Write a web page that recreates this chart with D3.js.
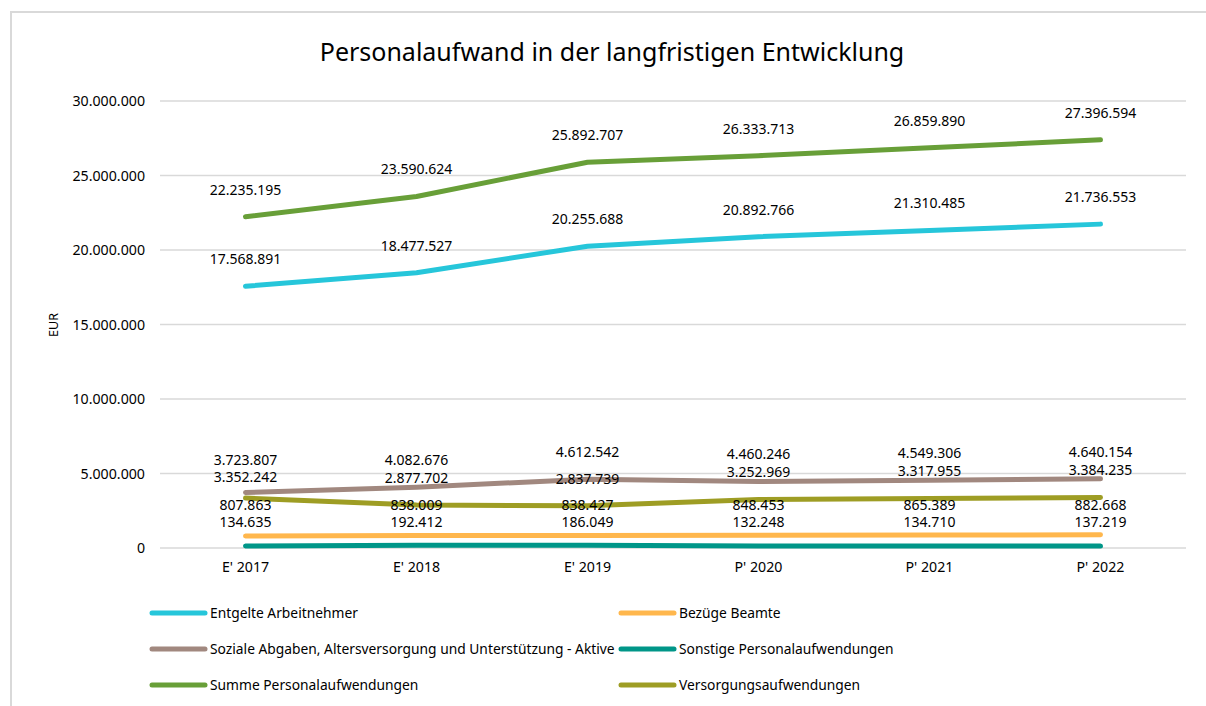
<!DOCTYPE html>
<html>
<head>
<meta charset="utf-8">
<script src="https://cdn.jsdelivr.net/npm/d3@7"></script>
<style>
  body { margin: 0; background: #fff; }
  text { font-family: "Noto Sans", sans-serif; fill: #000; }
</style>
</head>
<body>
<script>
var categories = ["E' 2017", "E' 2018", "E' 2019", "P' 2020", "P' 2021", "P' 2022"]
var seriesNames = [
  'Entgelte Arbeitnehmer',
  'Bezüge Beamte',
  'Soziale Abgaben, Altersversorgung und Unterstützung - Aktive',
  'Sonstige Personalaufwendungen',
  'Summe Personalaufwendungen',
  'Versorgungsaufwendungen'
]
var entgelte   = [17568891, 18477527, 20255688, 20892766, 21310485, 21736553]
var bezuege    = [807863, 838009, 838427, 848453, 865389, 882668]
var soziale    = [3723807, 4082676, 4612542, 4460246, 4549306, 4640154]
var sonstige   = [134635, 192412, 186049, 132248, 134710, 137219]
var summe      = [22235195, 23590624, 25892707, 26333713, 26859890, 27396594]
var versorgung = [3352242, 2877702, 2837739, 3252969, 3317955, 3384235]
var yTicks = [0, 5000000, 10000000, 15000000, 20000000, 25000000, 30000000]
var colors = ['#26c6da', '#ffb74d', '#a1887f', '#009688', '#689f38', '#9e9d24']

var seriesValues = [entgelte, bezuege, soziale, sonstige, summe, versorgung]
var series = seriesNames.map(function(name, i){
  return {name: name, values: seriesValues[i], color: colors[i]}
})

var de = d3.formatLocale({decimal: ',', thousands: '.', grouping: [3], currency: ['', ' €']})
var fmt = de.format(',d')

var width = 1206, height = 706
var svg = d3.select('body').append('svg')
  .attr('width', width)
  .attr('height', height)

// chart frame (cut off at right and bottom)
svg.append('path')
  .attr('d', 'M11,' + height + 'V12H' + width)
  .attr('fill', 'none')
  .attr('stroke', '#d9d9d9')
  .attr('stroke-width', 2)

svg.append('text')
  .attr('x', 612)
  .attr('y', 61)
  .attr('text-anchor', 'middle')
  .style('font-size', '25px')
  .text('Personalaufwand in der langfristigen Entwicklung')

var x = d3.scaleBand().domain(categories).range([160, 1186])
var y = d3.scaleLinear().domain([0, 30000000]).range([548, 101])
var cx = function(c){ return x(c) + x.bandwidth() / 2 }

// gridlines
svg.append('g').selectAll('line')
  .data(yTicks)
  .enter().append('line')
  .attr('x1', 160).attr('x2', 1186)
  .attr('y1', function(d){ return y(d) })
  .attr('y2', function(d){ return y(d) })
  .attr('stroke', '#d9d9d9')
  .attr('stroke-width', 1.5)

var yAxis = svg.append('g')
  .attr('transform', 'translate(160,0)')
  .call(d3.axisLeft(y).tickValues(yTicks).tickFormat(fmt).tickSize(0).tickPadding(15))
yAxis.select('.domain').remove()
yAxis.selectAll('text').style('font-size', '14.2px').style('font-family', '"Noto Sans", sans-serif').style('fill', '#000')

var xAxis = svg.append('g')
  .attr('transform', 'translate(0,556)')
  .call(d3.axisBottom(x).tickSize(0).tickPadding(6))
xAxis.select('.domain').remove()
xAxis.selectAll('text').style('font-size', '14.2px').style('font-family', '"Noto Sans", sans-serif').style('fill', '#000')

svg.append('text')
  .attr('transform', 'translate(58,325) rotate(-90)')
  .attr('text-anchor', 'middle')
  .style('font-size', '12.5px')
  .text('EUR')

var line = d3.line()
  .x(function(d, i){ return cx(categories[i]) })
  .y(function(d){ return y(d) })

svg.append('g').selectAll('path')
  .data(series)
  .enter().append('path')
  .attr('d', function(d){ return line(d.values) })
  .attr('fill', 'none')
  .attr('stroke', function(d){ return d.color })
  .attr('stroke-width', 5)
  .attr('stroke-linecap', 'round')
  .attr('stroke-linejoin', 'round')

// data labels above points, pushed apart where they collide
var minGap = 17
var labels = []
categories.forEach(function(c, ci){
  var group = series.map(function(s){
    return {x: cx(c), y: y(s.values[ci]) - 27, value: s.values[ci]}
  })
  group.sort(function(a, b){ return a.y - b.y })
  for (var iter = 0; iter < 30; iter++) {
    for (var k = 1; k < group.length; k++) {
      var gap = group[k].y - group[k - 1].y
      if (gap < minGap) {
        var push = (minGap - gap) / 2
        group[k - 1].y -= push
        group[k].y += push
      }
    }
  }
  labels = labels.concat(group)
})

svg.append('g').selectAll('text')
  .data(labels)
  .enter().append('text')
  .attr('x', function(d){ return d.x })
  .attr('y', function(d){ return d.y })
  .attr('dy', '0.35em')
  .attr('text-anchor', 'middle')
  .style('font-size', '14px')
  .text(function(d){ return fmt(d.value) })

// legend in two columns
var legend = svg.append('g').selectAll('g')
  .data(series)
  .enter().append('g')
  .attr('transform', function(d, i){
    return 'translate(' + (i % 2 === 0 ? 152 : 621) + ',' + (613 + Math.floor(i / 2) * 36) + ')'
  })
legend.append('line')
  .attr('x1', 0).attr('x2', 53)
  .attr('stroke', function(d){ return d.color })
  .attr('stroke-width', 5)
  .attr('stroke-linecap', 'round')
legend.append('text')
  .attr('x', 58)
  .attr('dy', '0.35em')
  .style('font-size', '13.8px')
  .text(function(d){ return d.name })
</script>
</body>
</html>
